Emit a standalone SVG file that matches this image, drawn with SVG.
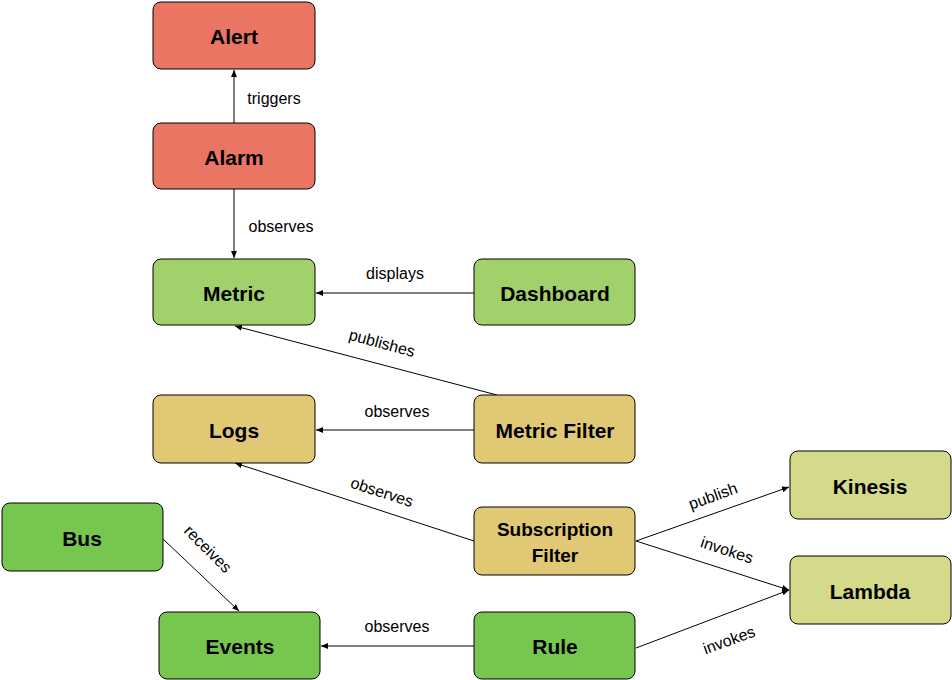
<svg xmlns="http://www.w3.org/2000/svg" width="952" height="680" viewBox="0 0 952 680">
<style>
.n rect{stroke:#000;stroke-width:1}
.n text{font-family:"Liberation Sans",Arial,sans-serif;font-weight:bold;font-size:21px;text-anchor:middle;dominant-baseline:central}
.e line{stroke:#000;stroke-width:1;marker-end:url(#a)}
.e text{font-family:"Liberation Sans",Arial,sans-serif;font-size:16px;text-anchor:middle;dominant-baseline:central}
.red{fill:#ea7563}.grn{fill:#a2d16c}.tan{fill:#e0c875}.ylw{fill:#d5d98a}.gr2{fill:#77c650}
</style>
<defs><marker id="a" markerWidth="8" markerHeight="8" refX="7" refY="3" orient="auto" markerUnits="userSpaceOnUse"><path d="M0,0L7,3L0,6z" fill="#000"/></marker></defs>
<rect width="952" height="680" fill="#fff"/>
<g class="e">
<line x1="234" y1="123" x2="234" y2="70"/><text x="274" y="98">triggers</text>
<line x1="234" y1="189" x2="234" y2="258"/><text x="281" y="226">observes</text>
<line x1="474" y1="293" x2="316" y2="293"/><text x="395" y="273">displays</text>
<line x1="497" y1="395" x2="235" y2="326"/><text x="382" y="343" transform="rotate(15 382 343)">publishes</text>
<line x1="474" y1="430" x2="316" y2="430"/><text x="397" y="411">observes</text>
<line x1="474" y1="541" x2="235" y2="463"/><text x="382" y="492" transform="rotate(18 382 492)">observes</text>
<line x1="636" y1="541" x2="789" y2="487"/><text x="713" y="496" transform="rotate(-20 713 496)">publish</text>
<line x1="636" y1="541" x2="789" y2="590"/><text x="727" y="550" transform="rotate(18 727 550)">invokes</text>
<line x1="636" y1="648" x2="789" y2="590"/><text x="729" y="640" transform="rotate(-20 729 640)">invokes</text>
<line x1="163" y1="539" x2="239" y2="611"/><text x="208" y="549" transform="rotate(45 208 549)">receives</text>
<line x1="474" y1="646" x2="321" y2="646"/><text x="397" y="626">observes</text>
</g>
<g id="alert" class="n"><rect class="red" x="153" y="2" width="162" height="67" rx="8"/><text x="234" y="36">Alert</text></g>
<g id="alarm" class="n"><rect class="red" x="153" y="123" width="162" height="66" rx="8"/><text x="234" y="157">Alarm</text></g>
<g id="metric" class="n"><rect class="grn" x="153" y="259" width="162" height="66" rx="8"/><text x="234" y="293">Metric</text></g>
<g id="dashboard" class="n"><rect class="grn" x="474" y="259" width="161" height="66" rx="8"/><text x="555" y="293">Dashboard</text></g>
<g id="logs" class="n"><rect class="tan" x="153" y="395" width="162" height="68" rx="8"/><text x="234" y="430">Logs</text></g>
<g id="metricfilter" class="n"><rect class="tan" x="474" y="395" width="161" height="68" rx="8"/><text x="555" y="430">Metric Filter</text></g>
<g id="subfilter" class="n"><rect class="tan" x="474" y="507" width="161" height="68" rx="8"/><text x="555" y="529" style="font-size:19px">Subscription</text><text x="555" y="555" style="font-size:19px">Filter</text></g>
<g id="kinesis" class="n"><rect class="ylw" x="790" y="451" width="161" height="68" rx="8"/><text x="870" y="486">Kinesis</text></g>
<g id="lambda" class="n"><rect class="ylw" x="790" y="556" width="161" height="68" rx="8"/><text x="870" y="591">Lambda</text></g>
<g id="bus" class="n"><rect class="gr2" x="2" y="503" width="161" height="68" rx="8"/><text x="82" y="538">Bus</text></g>
<g id="events" class="n"><rect class="gr2" x="159" y="612" width="161" height="67" rx="8"/><text x="240" y="646">Events</text></g>
<g id="rule" class="n"><rect class="gr2" x="474" y="612" width="161" height="67" rx="8"/><text x="555" y="646">Rule</text></g>
</svg>
